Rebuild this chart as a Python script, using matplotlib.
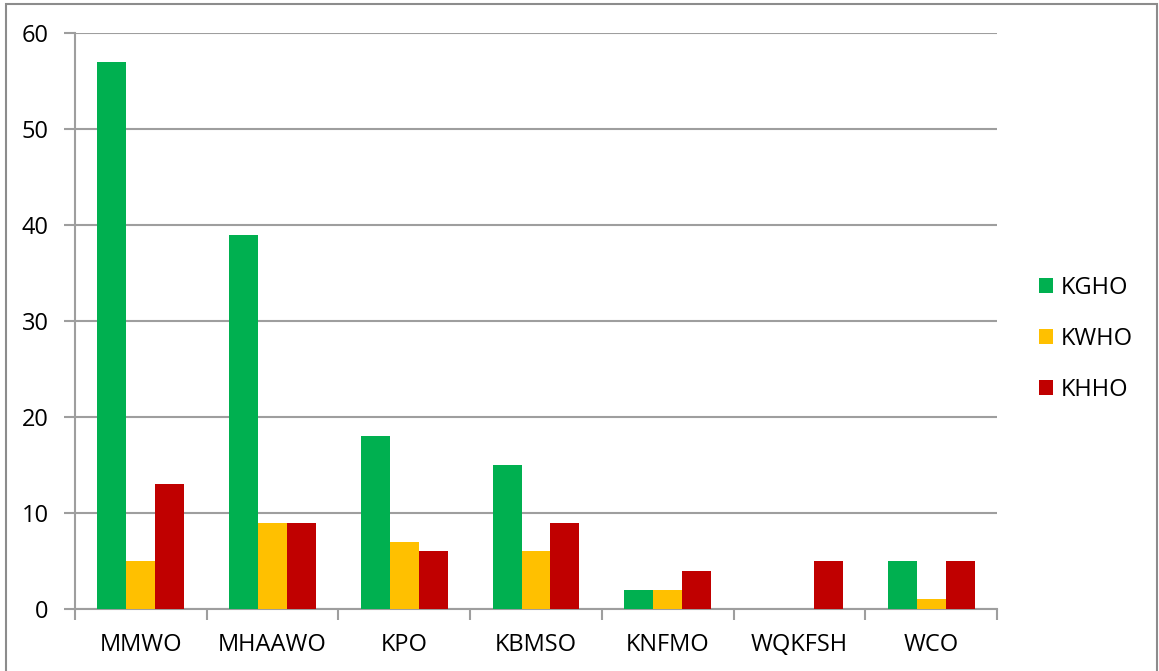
import matplotlib
matplotlib.use("Agg")
from matplotlib import pyplot as plt
from matplotlib.patches import Rectangle
import numpy as np

# data
categories = ["MMWO", "MHAAWO", "KPO", "KBMSO", "KNFMO", "WQKFSH", "WCO"]
kgho = [57, 39, 18, 15, 2, 0, 5]
kwho = [5, 9, 7, 6, 2, 0, 1]
khho = [13, 9, 6, 9, 4, 5, 5]

series_names = ["KGHO", "KWHO", "KHHO"]
colors = ["#00B050", "#FFC000", "#C00000"]

plt.rcParams['font.family'] = ['Open Sans', 'DejaVu Sans']
grid_col = "#9E9E9E"
fs = 17

fig = plt.figure(figsize=(11.59, 6.71), dpi=100)
ax = fig.add_axes([75/1159, 62/671, 922/1159, 576/671])

ind = np.arange(len(categories))
w = 0.22
for i, vals in enumerate([kgho, kwho, khho]):
    ax.bar(ind + (i - 1) * w, vals, w, color=colors[i], label=series_names[i], zorder=3)

ax.set_xlim(-0.5, len(categories) - 0.5)
ax.set_ylim(0, 60)
ax.set_yticks(np.arange(0, 61, 10))
ax.grid(axis='y', color=grid_col, linewidth=1.5, zorder=0)

# category labels between boundary ticks
ax.set_xticks(np.arange(-0.5, len(categories)), minor=False)
ax.set_xticklabels([])
ax.set_xticks(ind, minor=True)
ax.set_xticklabels(categories, minor=True, fontsize=fs)
ax.tick_params(axis='x', which='major', length=8, width=1.5, color=grid_col, direction='out')
ax.tick_params(axis='x', which='minor', length=0, pad=17)
ax.tick_params(axis='y', length=8, width=1.5, color=grid_col, labelsize=fs, pad=11)

for s in ['top', 'right']:
    ax.spines[s].set_visible(False)
for s in ['left', 'bottom']:
    ax.spines[s].set_color(grid_col)
    ax.spines[s].set_linewidth(1.5)

ax.legend(loc='center left', bbox_to_anchor=(1.022, 0.469), frameon=False,
          fontsize=fs, handlelength=0.6, handleheight=0.6, labelspacing=1.15,
          handletextpad=0.35)

# outer chart border
fig.patches.append(Rectangle((6/1159, -0.01), 1151/1159, 1.01 - 4/671,
                             transform=fig.transFigure, fill=False,
                             edgecolor="#8C8C8C", linewidth=1.5))

fig.savefig("out.png", dpi=100)
